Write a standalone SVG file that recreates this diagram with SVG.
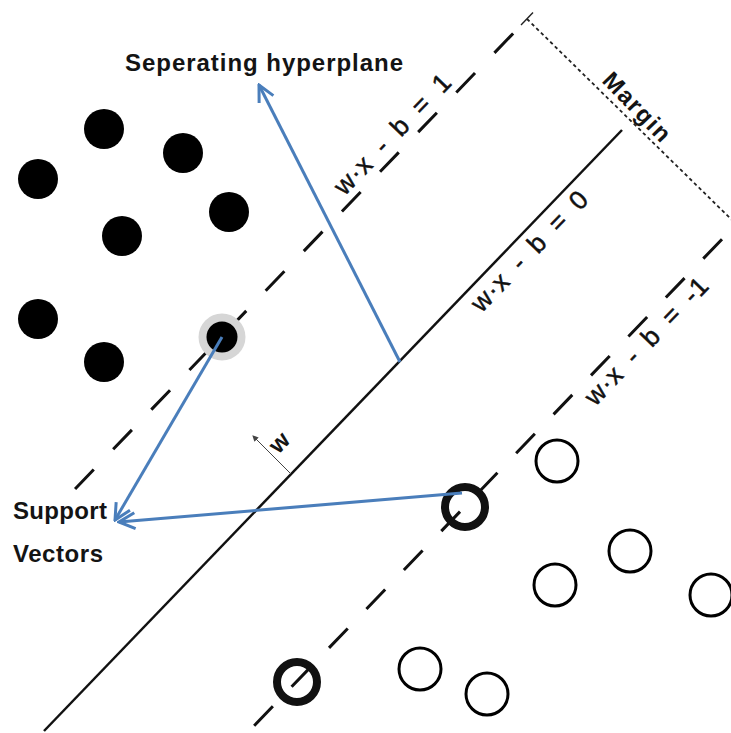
<svg xmlns="http://www.w3.org/2000/svg" width="731" height="733" viewBox="0 0 731 733">
  <style>
    .dash { stroke: #111; stroke-width: 3; fill: none; }
    .solid { stroke: #111; stroke-width: 2.5; fill: none; }
    .dot { fill: #000; }
    .open { fill: none; stroke: #000; stroke-width: 3; }
    .bold { fill: none; stroke: #111; stroke-width: 8; }
    .eq { font-family: "Liberation Sans", Arial, sans-serif; font-size: 26px; fill: #111; stroke: #111; stroke-width: 0.5; letter-spacing: 1px; word-spacing: 6px; }
    .lbl { font-family: "Liberation Sans", Arial, sans-serif; font-weight: bold; font-size: 24px; fill: #141414; }
    .arrow { stroke: #4a7ebb; stroke-width: 3; fill: none; marker-end: url(#ah); }
  </style>
  <defs>
    <marker id="ah" viewBox="0 0 20 20" refX="18" refY="10" markerWidth="20" markerHeight="20" markerUnits="userSpaceOnUse" orient="auto">
      <path d="M2,2 L18,10 L2,18" fill="none" stroke="#4a7ebb" stroke-width="3"/>
    </marker>
    <marker id="sm" viewBox="0 0 6 6" refX="5" refY="3" markerWidth="6" markerHeight="6" markerUnits="userSpaceOnUse" orient="auto">
      <path d="M0,0 L6,3 L0,6 Z" fill="#444"/>
    </marker>
  </defs>
  <rect width="731" height="733" fill="#fff"/>

  <g id="hyperplanes">
    <line id="plane-plus" class="dash" x1="527" y1="19" x2="65" y2="499.4" stroke-dasharray="27 28" stroke-dashoffset="35"/>
    <line id="plane-zero" class="solid" x1="622" y1="130" x2="44" y2="731"/>
    <line id="plane-minus" class="dash" x1="731" y1="229.8" x2="252" y2="728" stroke-dasharray="27 27" stroke-dashoffset="41"/>
  </g>

  <g id="margin">
    <line x1="527" y1="19" x2="734" y2="222" stroke="#222" stroke-width="1.8" stroke-dasharray="3.5 3"/>
    <line x1="521" y1="25" x2="533" y2="12.5" stroke="#222" stroke-width="1.4"/>
    <text class="lbl" transform="translate(631.5,113) rotate(46)" text-anchor="middle" letter-spacing="1.5">Margin</text>
  </g>

  <g id="class-filled">
    <circle class="dot" cx="104" cy="129" r="20"/>
    <circle class="dot" cx="38" cy="179" r="20"/>
    <circle class="dot" cx="183" cy="153" r="20"/>
    <circle class="dot" cx="229" cy="212" r="20"/>
    <circle class="dot" cx="122" cy="236" r="20"/>
    <circle class="dot" cx="38" cy="319" r="20"/>
    <circle class="dot" cx="104" cy="362" r="20"/>
  </g>
  <g id="sv-filled">
    <circle cx="222" cy="337" r="23.5" fill="#d6d6d6"/>
    <circle class="dot" cx="222" cy="337" r="15.5"/>
  </g>

  <g id="class-open">
    <circle class="open" cx="557" cy="461" r="21"/>
    <circle class="open" cx="630" cy="551" r="21"/>
    <circle class="open" cx="555" cy="585" r="21"/>
    <circle class="open" cx="711" cy="595" r="21"/>
    <circle class="open" cx="420" cy="669" r="21"/>
    <circle class="open" cx="487" cy="694" r="21"/>
  </g>
  <g id="sv-open">
    <circle class="bold" cx="465" cy="507" r="20"/>
    <circle class="bold" cx="297" cy="682" r="20"/>
  </g>

  <g id="eq-labels">
    <text class="eq" transform="translate(399,140) rotate(-46.1)" text-anchor="middle">w·x - b = 1</text>
    <text class="eq" transform="translate(536,257) rotate(-46.1)" text-anchor="middle">w·x - b = 0</text>
    <text class="eq" transform="translate(653,347) rotate(-46.1)" text-anchor="middle">w·x - b = -1</text>
  </g>

  <g id="w-vector">
    <line x1="291" y1="474" x2="253" y2="436" stroke="#444" stroke-width="1" marker-end="url(#sm)"/>
    <text class="lbl" font-size="22" transform="translate(285,448) rotate(-46.1)" text-anchor="middle">w</text>
  </g>

  <g id="title">
    <text class="lbl" x="125" y="71" textLength="278" lengthAdjust="spacing">Seperating hyperplane</text>
  </g>
  <g id="sv-label">
    <text class="lbl" x="13" y="519" textLength="94" lengthAdjust="spacing">Support</text>
    <text class="lbl" x="13" y="562" textLength="90" lengthAdjust="spacing">Vectors</text>
  </g>

  <g id="connectors">
    <line class="arrow" x1="400" y1="362" x2="259" y2="85"/>
    <line class="arrow" x1="222" y1="337" x2="115" y2="520"/>
    <line class="arrow" x1="462" y1="493" x2="119" y2="522"/>
  </g>
</svg>
